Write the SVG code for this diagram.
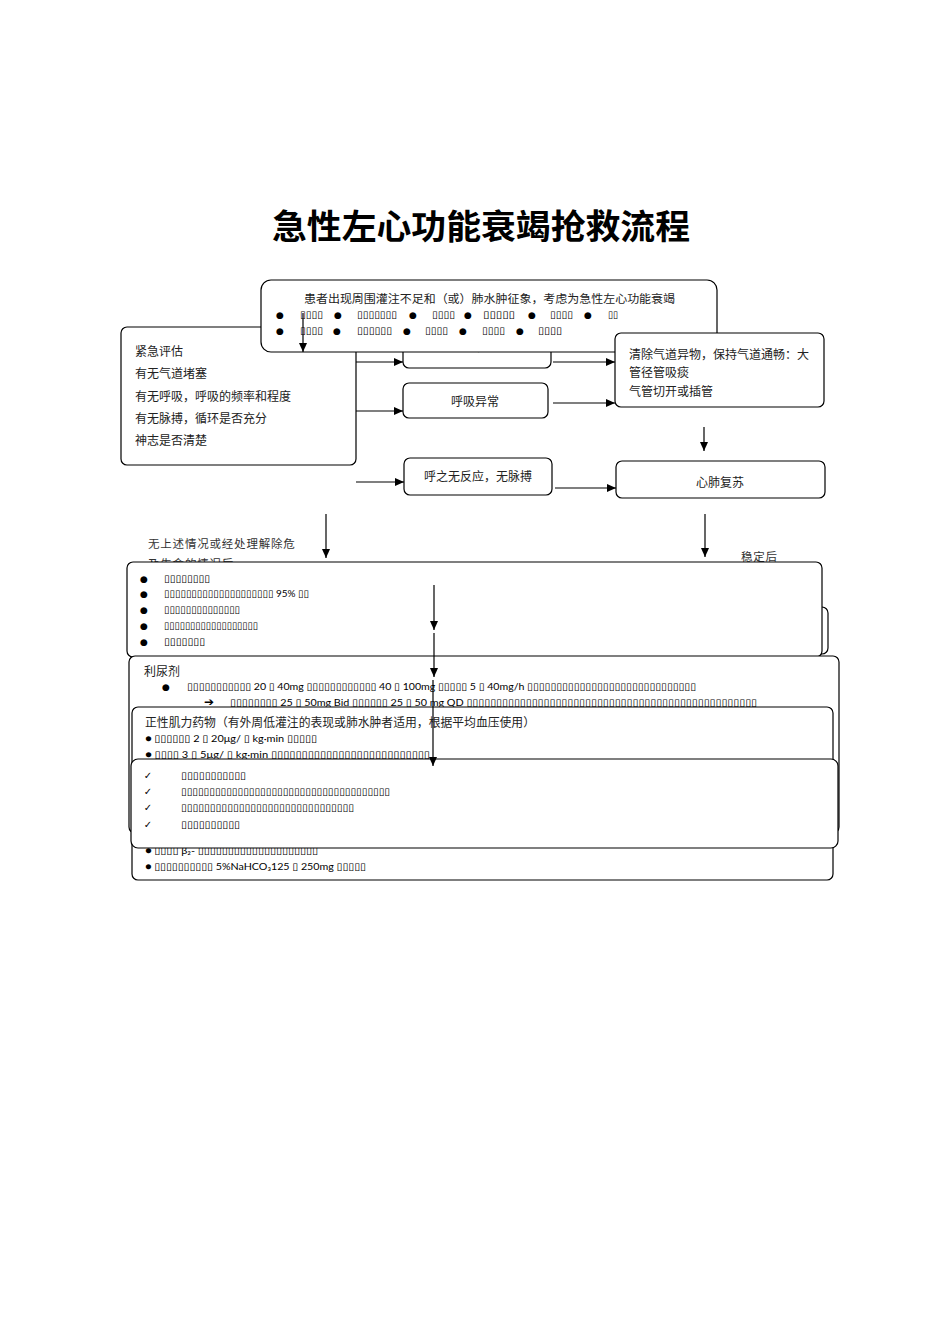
<svg xmlns="http://www.w3.org/2000/svg" width="950" height="1344" viewBox="0 0 950 1344">
<style>
.box{fill:#fff;stroke:#000;stroke-width:1.2}
.cn{font-family:'Noto Sans CJK SC',sans-serif;font-size:12px;fill:#222}
.cs{font-family:'Noto Sans CJK SC',sans-serif;font-size:11.5px;fill:#333;letter-spacing:0.8px}
.tf{font-family:'Lato','DejaVu Sans',sans-serif;font-size:10px;fill:#000}
.bul{font-family:'DejaVu Sans',sans-serif;font-size:9px;fill:#000;text-anchor:middle}
.title{font-family:'Noto Sans CJK SC',sans-serif;font-size:34px;font-weight:bold;fill:#000}
.conn line{stroke:#000;stroke-width:1.2;marker-end:url(#ah)}
</style>
<defs>
<marker id="ah" markerUnits="userSpaceOnUse" markerWidth="9" markerHeight="8" refX="9" refY="4" orient="auto">
<path d="M0,0 L9,4 L0,8 z" fill="#000"/>
</marker>
</defs>
<rect width="950" height="1344" fill="#fff"/>

<text class="title" x="272" y="239" textLength="418" lengthAdjust="spacingAndGlyphs">急性左心功能衰竭抢救流程</text>

<g id="assess">
<rect class="box" x="121" y="327" width="235" height="138" rx="6"/>
<text class="cn" x="135" y="356">紧急评估</text>
<text class="cn" x="135" y="378">有无气道堵塞</text>
<text class="cn" x="135" y="401">有无呼吸，呼吸的频率和程度</text>
<text class="cn" x="135" y="423">有无脉搏，循环是否充分</text>
<text class="cn" x="135" y="445">神志是否清楚</text>
</g>

<g id="airway">
<rect class="box" x="403" y="330" width="148" height="38" rx="6"/>
<text class="cn" x="477" y="351" text-anchor="middle">气道阻塞</text>
</g>

<g id="start">
<rect class="box" x="261" y="280" width="456" height="72" rx="10"/>
<text class="cn" x="304" y="303" style="font-size:11.5px" textLength="371" lengthAdjust="spacingAndGlyphs">患者出现周围灌注不足和（或）肺水肿征象，考虑为急性左心功能衰竭</text>
<text class="bul" x="280" y="318">●</text><text class="tf" x="300" y="318" textLength="23" lengthAdjust="spacingAndGlyphs">▯▯▯▯</text>
<text class="bul" x="338" y="318">●</text><text class="tf" x="357" y="318" textLength="40" lengthAdjust="spacingAndGlyphs">▯▯▯▯▯▯▯</text>
<text class="bul" x="413" y="318">●</text><text class="tf" x="432" y="318" textLength="23" lengthAdjust="spacingAndGlyphs">▯▯▯▯</text>
<text class="bul" x="468" y="318">●</text><text class="tf" x="483" y="318" textLength="32" lengthAdjust="spacingAndGlyphs">▯▯▯▯▯</text>
<text class="bul" x="532" y="318">●</text><text class="tf" x="550" y="318" textLength="23" lengthAdjust="spacingAndGlyphs">▯▯▯▯</text>
<text class="bul" x="588" y="318">●</text><text class="tf" x="608" y="318" textLength="10" lengthAdjust="spacingAndGlyphs">▯▯</text>
<text class="bul" x="280" y="334">●</text><text class="tf" x="300" y="334" textLength="23" lengthAdjust="spacingAndGlyphs">▯▯▯▯</text>
<text class="bul" x="337" y="334">●</text><text class="tf" x="357" y="334" textLength="35" lengthAdjust="spacingAndGlyphs">▯▯▯▯▯▯</text>
<text class="bul" x="407" y="334">●</text><text class="tf" x="425" y="334" textLength="23" lengthAdjust="spacingAndGlyphs">▯▯▯▯</text>
<text class="bul" x="463" y="334">●</text><text class="tf" x="482" y="334" textLength="23" lengthAdjust="spacingAndGlyphs">▯▯▯▯</text>
<text class="bul" x="520" y="334">●</text><text class="tf" x="538" y="334" textLength="24" lengthAdjust="spacingAndGlyphs">▯▯▯▯</text>
</g>

<g id="clear">
<rect class="box" x="615" y="333" width="209" height="74" rx="6"/>
<text class="cn" x="629" y="359">清除气道异物，保持气道通畅：大</text>
<text class="cn" x="629" y="377">管径管吸痰</text>
<text class="cn" x="629" y="396">气管切开或插管</text>
</g>

<g id="breath">
<rect class="box" x="403" y="383" width="145" height="35" rx="6"/>
<text class="cn" x="475" y="406" text-anchor="middle">呼吸异常</text>
</g>

<g id="nopulse">
<rect class="box" x="404" y="458" width="148" height="37" rx="6"/>
<text class="cn" x="478" y="481" text-anchor="middle">呼之无反应，无脉搏</text>
</g>

<g id="cpr">
<rect class="box" x="616" y="461" width="209" height="37" rx="6"/>
<text class="cn" x="720" y="487" text-anchor="middle">心肺复苏</text>
</g>

<g id="labels">
<text class="cs" x="148" y="548">无上述情况或经处理解除危</text>
<text class="cs" x="148" y="568">及生命的情况后</text>
<text class="cs" x="741" y="561">稳定后</text>
</g>

<g id="hidden">
<rect class="box" x="420" y="607" width="408" height="47" rx="6"/>
</g>

<g id="general">
<rect class="box" x="127" y="562" width="695" height="95" rx="6"/>
<text class="bul" x="144" y="582">●</text><text class="tf" x="164" y="582" textLength="46" lengthAdjust="spacingAndGlyphs">▯▯▯▯▯▯▯▯</text>
<text class="bul" x="144" y="597">●</text><text class="tf" x="164" y="597" textLength="145" lengthAdjust="spacingAndGlyphs">▯▯▯▯▯▯▯▯▯▯▯▯▯▯▯▯▯▯▯▯ 95% ▯▯</text>
<text class="bul" x="144" y="613">●</text><text class="tf" x="164" y="613" textLength="76" lengthAdjust="spacingAndGlyphs">▯▯▯▯▯▯▯▯▯▯▯▯▯▯</text>
<text class="bul" x="144" y="629">●</text><text class="tf" x="164" y="629" textLength="94" lengthAdjust="spacingAndGlyphs">▯▯▯▯▯▯▯▯▯▯▯▯▯▯▯▯▯▯</text>
<text class="bul" x="144" y="645">●</text><text class="tf" x="164" y="645" textLength="41" lengthAdjust="spacingAndGlyphs">▯▯▯▯▯▯▯</text>
</g>

<g id="diuretic">
<rect class="box" x="129" y="656" width="710" height="177" rx="6"/>
<text class="cn" x="144" y="676">利尿剂</text>
<text class="bul" x="166" y="690">●</text>
<text class="tf" x="187" y="690" textLength="509" lengthAdjust="spacingAndGlyphs">▯▯▯▯▯▯▯▯▯▯▯ 20 ▯ 40mg ▯▯▯▯▯▯▯▯▯▯▯▯ 40 ▯ 100mg ▯▯▯▯▯ 5 ▯ 40mg/h ▯▯▯▯▯▯▯▯▯▯▯▯▯▯▯▯▯▯▯▯▯▯▯▯▯▯▯▯▯</text>
<text x="209" y="706" text-anchor="middle" style="font-family:'DejaVu Sans',sans-serif;font-size:12px;font-weight:bold">➔</text>
<text class="tf" x="230" y="706" textLength="527" lengthAdjust="spacingAndGlyphs">▯▯▯▯▯▯▯▯ 25 ▯ 50mg Bid ▯▯▯▯▯▯ 25 ▯ 50 mg QD ▯▯▯▯▯▯▯▯▯▯▯▯▯▯▯▯▯▯▯▯▯▯▯▯▯▯▯▯▯▯▯▯▯▯▯▯▯▯▯▯▯▯▯▯▯▯▯▯▯</text>
</g>

<g id="inotrope">
<rect class="box" x="132" y="707" width="701" height="173" rx="6"/>
<text class="cn" x="145" y="727" textLength="390" lengthAdjust="spacingAndGlyphs">正性肌力药物（有外周低灌注的表现或肺水肿者适用，根据平均血压使用）</text>
<text class="tf" x="145" y="742" textLength="172" lengthAdjust="spacingAndGlyphs">● ▯▯▯▯▯▯ 2 ▯ 20μg/ ▯ kg·min ▯▯▯▯▯</text>
<text class="tf" x="145" y="758" textLength="285" lengthAdjust="spacingAndGlyphs">● ▯▯▯▯ 3 ▯ 5μg/ ▯ kg·min ▯▯▯▯▯▯▯▯▯▯▯▯▯▯▯▯▯▯▯▯▯▯▯▯▯▯</text>
<text class="tf" x="145" y="854" textLength="173" lengthAdjust="spacingAndGlyphs">● ▯▯▯▯ β₂- ▯▯▯▯▯▯▯▯▯▯▯▯▯▯▯▯▯▯▯▯</text>
<text class="tf" x="145" y="870" textLength="221" lengthAdjust="spacingAndGlyphs">● ▯▯▯▯▯▯▯▯▯▯ 5%NaHCO₃125 ▯ 250mg ▯▯▯▯▯</text>
</g>

<g id="checks">
<rect class="box" x="131" y="759" width="707" height="89" rx="7"/>
<text class="bul" x="148" y="779" style="font-size:10px">✓</text><text class="tf" x="181" y="779" textLength="65" lengthAdjust="spacingAndGlyphs">▯▯▯▯▯▯▯▯▯▯▯</text>
<text class="bul" x="148" y="795" style="font-size:10px">✓</text><text class="tf" x="181" y="795" textLength="209" lengthAdjust="spacingAndGlyphs">▯▯▯▯▯▯▯▯▯▯▯▯▯▯▯▯▯▯▯▯▯▯▯▯▯▯▯▯▯▯▯▯▯▯▯▯▯</text>
<text class="bul" x="148" y="811" style="font-size:10px">✓</text><text class="tf" x="181" y="811" textLength="173" lengthAdjust="spacingAndGlyphs">▯▯▯▯▯▯▯▯▯▯▯▯▯▯▯▯▯▯▯▯▯▯▯▯▯▯▯▯▯▯</text>
<text class="bul" x="148" y="828" style="font-size:10px">✓</text><text class="tf" x="181" y="828" textLength="59" lengthAdjust="spacingAndGlyphs">▯▯▯▯▯▯▯▯▯▯</text>
</g>

<g class="conn" id="connectors">
<line x1="303" y1="313" x2="303" y2="352"/>
<line x1="356" y1="362" x2="403" y2="362"/>
<line x1="356" y1="411" x2="403" y2="411"/>
<line x1="356" y1="482" x2="404" y2="482"/>
<line x1="553" y1="362" x2="615" y2="362"/>
<line x1="553" y1="403" x2="615" y2="403"/>
<line x1="555" y1="488" x2="616" y2="488"/>
<line x1="704" y1="427" x2="704" y2="451"/>
<line x1="326" y1="514" x2="326" y2="558"/>
<line x1="705" y1="514" x2="705" y2="557"/>
<line x1="434" y1="585" x2="434" y2="630"/>
<line x1="434" y1="633" x2="434" y2="677"/>
<line x1="433" y1="680" x2="433" y2="766"/>
</g>
</svg>
